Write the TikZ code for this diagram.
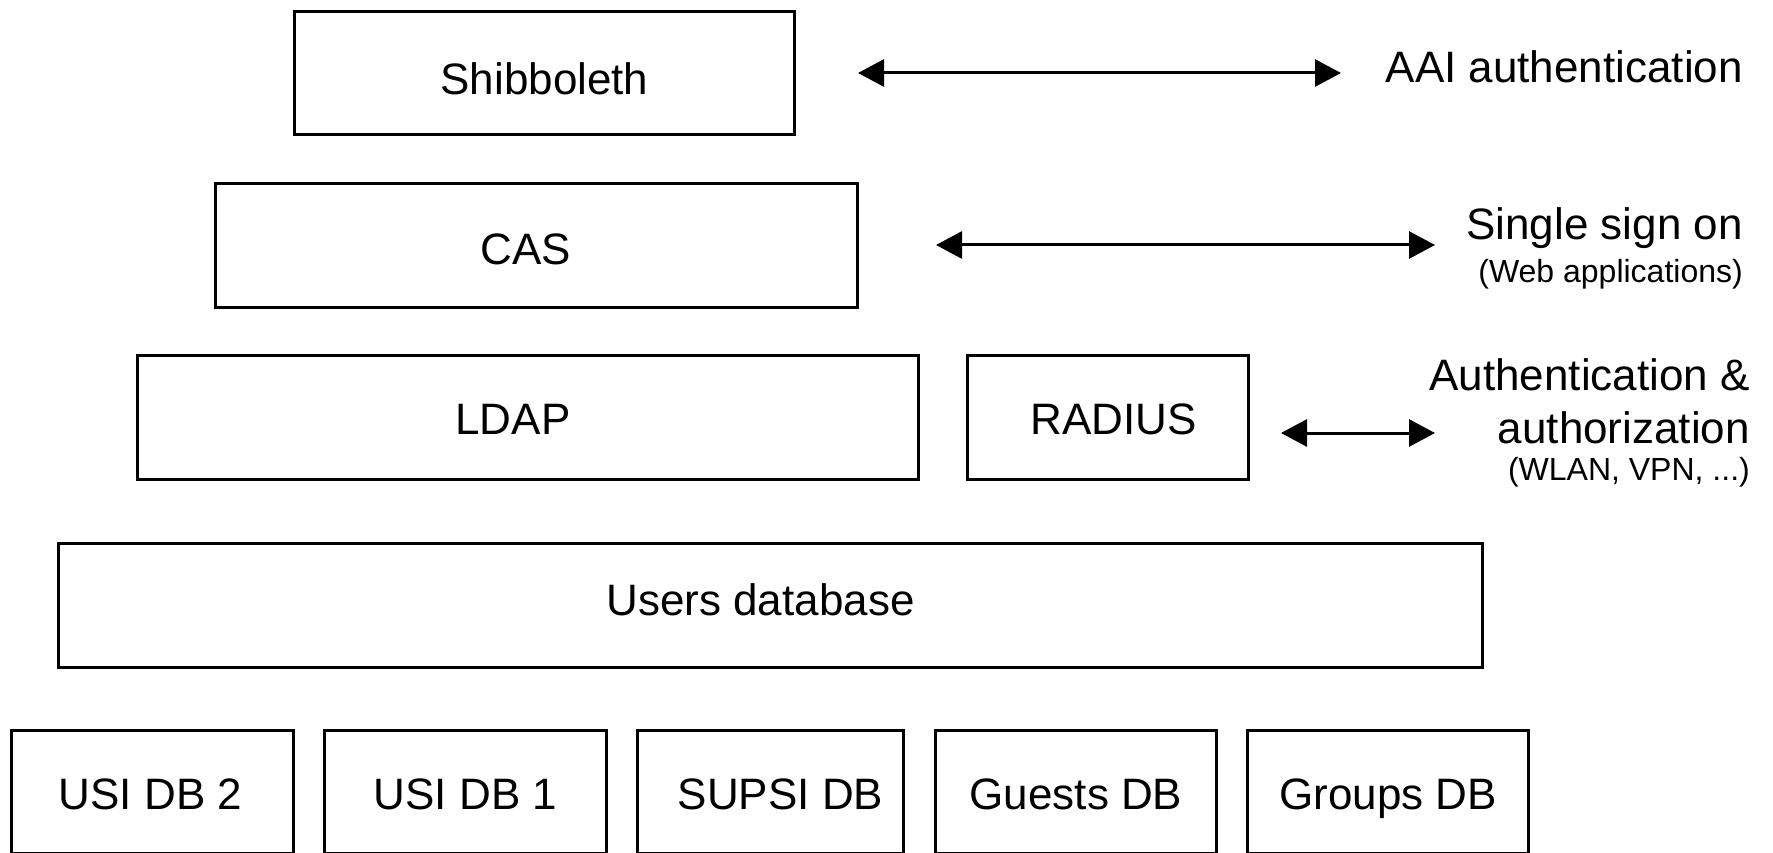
\documentclass[tikz,border=0pt]{standalone}
\usepackage{fontspec}
\setmainfont{Liberation Sans}
\usetikzlibrary{arrows.meta}
\begin{document}
\begin{tikzpicture}[x=1pt,y=-1pt,
  box/.style={draw, line width=3pt, inner sep=0pt, text height=34pt, text depth=0pt,
    font=\fontsize{44}{53}\selectfont},
  lbl/.style={inner sep=0pt, font=\fontsize{44}{53}\selectfont},
  sublbl/.style={inner sep=0pt, font=\fontsize{32}{38}\selectfont},
  biarrow/.style={line width=3pt, {Triangle[length=26pt,width=27pt]}-{Triangle[length=26pt,width=27pt]}}]
\useasboundingbox (0,0) rectangle (1773,853);
\clip (0,0) rectangle (1773,853);
% boxes
\node[box, minimum width=500pt, minimum height=123pt, text height=44pt] (shib) at (544.5,73) {Shibboleth};
\node[box, minimum width=642pt, minimum height=124pt, text height=39pt] (cas) at (536.5,245.5) {CAS\hspace*{22pt}};
\node[box, minimum width=781pt, minimum height=124pt] (ldap) at (528,417.5) {LDAP\hspace*{30pt}};
\node[box, minimum width=281pt, minimum height=124pt] (radius) at (1108,417.5) {\hspace*{11pt}RADIUS};
\node[box, minimum width=1424pt, minimum height=124pt, text height=19pt] (users) at (770.5,605.5) {Users database\hspace*{20pt}};
\node[box, minimum width=282pt, minimum height=123pt] (usi2) at (152.5,792) {USI DB 2\hspace*{4pt}};
\node[box, minimum width=282pt, minimum height=123pt] (usi1) at (465.5,792) {USI DB 1};
\node[box, minimum width=266pt, minimum height=123pt] (supsi) at (770.5,792) {\hspace*{20pt}SUPSI DB};
\node[box, minimum width=281pt, minimum height=123pt] (guests) at (1076,792) {Guests DB};
\node[box, minimum width=281pt, minimum height=123pt] (groups) at (1388,792) {Groups DB};
% labels
\node[lbl, anchor=base east] (aai) at (1743,83) {AAI authentication};
\node[lbl, anchor=base east] (sso) at (1743,240) {Single sign on};
\node[sublbl, anchor=base east] (ssosub) at (1743,283) {(Web applications)};
\node[lbl, anchor=base east] (auth1) at (1750,390) {Authentication \&};
\node[lbl, anchor=base east] (auth2) at (1750,443) {authorization};
\node[sublbl, anchor=base east] (authsub) at (1750,480) {(WLAN, VPN, ...)};
% arrows
\coordinate (a1l) at (858,73);
\coordinate (a1r) at (1341,73);
\coordinate (a2l) at (936,245);
\coordinate (a2r) at (1435,245);
\coordinate (a3l) at (1281,433);
\coordinate (a3r) at (1435,433);
\draw[biarrow] (a1l) -- (a1r);
\draw[biarrow] (a2l) -- (a2r);
\draw[biarrow] (a3l) -- (a3r);
\end{tikzpicture}
\end{document}
